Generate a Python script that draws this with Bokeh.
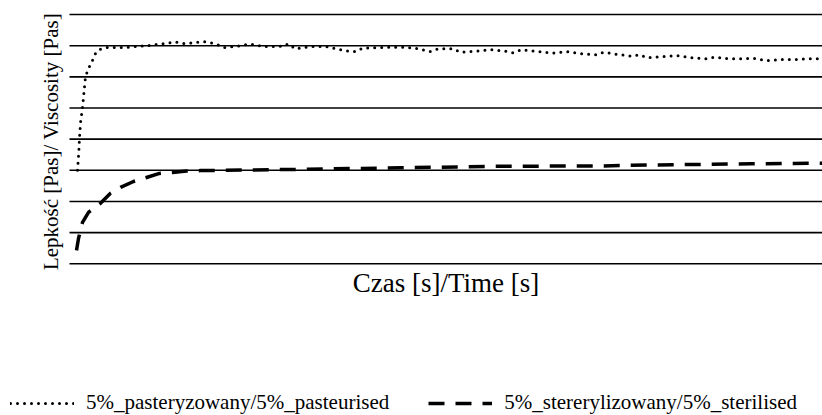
import math
from bokeh.plotting import figure
from bokeh.models import Legend, LegendItem, Range1d, Label
from bokeh.embed import file_html
from bokeh.resources import INLINE

# ---- data ----
time_past = [8, 8.7, 9.4, 10, 11, 13, 16, 19, 23, 26,
             30, 37, 45, 55, 65, 80, 95, 105, 115, 125,
             135, 145, 155, 165, 180, 195, 213, 219, 226, 241,
             256, 264, 279, 286, 293, 316, 331, 346, 361, 369,
             384, 391, 406, 421, 436, 444, 452, 467, 482, 497,
             512, 527, 534, 548, 563, 570, 578, 593, 608, 623,
             638, 645, 660, 675, 683, 698, 714, 729, 737, 753]
visc_past = [3.00, 3.30, 3.65, 4.05, 4.53, 5.01, 6.01, 6.27, 6.53, 6.75,
             6.88, 6.94, 6.94, 6.94, 6.97, 7.01, 7.07, 7.12, 7.07, 7.10,
             7.13, 7.07, 6.94, 6.97, 7.05, 6.97, 6.98, 7.06, 6.90, 6.97,
             6.98, 6.92, 6.82, 6.81, 6.92, 6.95, 6.95, 6.92, 6.81, 6.90,
             6.90, 6.79, 6.82, 6.87, 6.82, 6.77, 6.87, 6.82, 6.76, 6.81,
             6.74, 6.71, 6.79, 6.72, 6.66, 6.71, 6.61, 6.65, 6.68, 6.61,
             6.58, 6.63, 6.58, 6.58, 6.60, 6.52, 6.56, 6.56, 6.58, 6.58]

time_ster = [7, 9, 13, 19, 31, 41, 51, 64, 77, 90,
             103, 117, 131, 231, 331, 431, 531, 581, 631, 681, 753]
visc_ster = [0.43, 0.81, 1.33, 1.65, 1.94, 2.26, 2.45, 2.64, 2.77, 2.90,
             2.93, 2.98, 2.99, 3.03, 3.08, 3.13, 3.14, 3.17, 3.19, 3.21, 3.23]

time_bounds = [0, 753]                      # extent of the time axis
y_ticks = [0, 1, 2, 3, 4, 5, 6, 7, 8]       # horizontal grid levels

label_past = "5%_pasteryzowany/5%_pasteurised"
label_ster = "5%_stererylizowany/5%_sterilised"
x_title = "Czas [s]/Time [s]"
y_title = "Lepkość [Pas]/ Viscosity [Pas]"

FONT = "Liberation Serif"

# one frame covering the whole page; the plotting area occupies its upper right
p = figure(width=822, height=415,
           x_range=Range1d(-69, 753), y_range=Range1d(-4.87, 8.45),
           output_backend="svg", toolbar_location=None,
           x_axis_type=None, y_axis_type=None,
           min_border_left=0, min_border_right=0,
           min_border_top=0, min_border_bottom=0)
p.outline_line_color = None
p.xgrid.grid_line_color = None
p.ygrid.grid_line_color = None
p.background_fill_color = "white"
p.border_fill_color = "white"

# horizontal grid lines across the time axis
p.segment(x0=[time_bounds[0]] * len(y_ticks), x1=[time_bounds[1]] * len(y_ticks),
          y0=y_ticks, y1=y_ticks, line_color="black", line_width=1.6)

r1 = p.line(time_past, visc_past, line_color="black", line_width=3,
            line_dash="0 7", line_cap="round")
r2 = p.line(time_ster, visc_ster, line_color="black", line_width=3.5,
            line_dash="16 11")

# axis titles
p.add_layout(Label(x=445.5, y=133, x_units="screen", y_units="screen",
                   text=x_title, text_align="center", text_baseline="alphabetic",
                   text_font=FONT, text_font_size="27px", text_color="black"))
p.add_layout(Label(x=50.7, y=274, x_units="screen", y_units="screen",
                   text=y_title, angle=math.pi / 2,
                   text_align="center", text_baseline="alphabetic",
                   text_font=FONT, text_font_size="21px", text_color="black"))

legend = Legend(items=[LegendItem(label=label_past, renderers=[r1]),
                       LegendItem(label=label_ster, renderers=[r2])],
                location=(10, 0), orientation="horizontal",
                glyph_width=64, glyph_height=20, label_standoff=12,
                spacing=39, padding=0, margin=0,
                border_line_color=None, background_fill_alpha=0,
                label_text_font=FONT, label_text_font_size="21px",
                label_text_color="black")
p.add_layout(legend)

open("out.html", "w").write(file_html(p, INLINE))
